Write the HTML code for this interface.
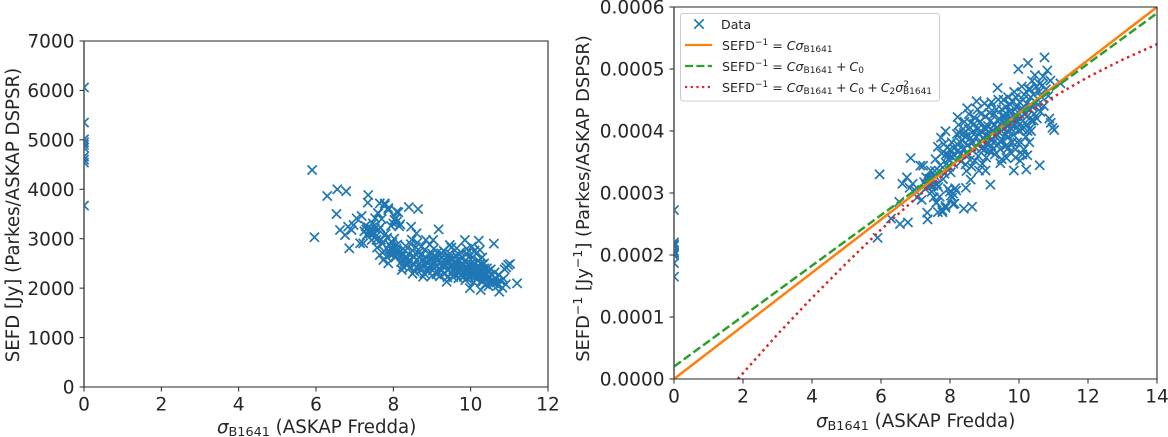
<!DOCTYPE html>
<html lang="en">
<head>
<meta charset="utf-8">
<title>SEFD versus sigma B1641</title>
<style>
html,body{margin:0;padding:0;background:#fff;}
svg{display:block;font-family:"DejaVu Sans","Liberation Sans",sans-serif;fill:#262626;}
</style>
</head>
<body>
<svg id="figure" xmlns="http://www.w3.org/2000/svg" width="1168" height="437" viewBox="0 0 1168 437">
  <defs>
    <clipPath id="clip-left"><rect x="84" y="41" width="464" height="346"/></clipPath>
    <clipPath id="clip-right"><rect x="674" y="7" width="483" height="372"/></clipPath>
  </defs>
  <g id="left-panel"></g>
  <g id="right-panel"></g>

  <text x="217" y="433" font-size="18.2"><tspan font-style="italic">σ</tspan><tspan font-size="12.8" dy="3">B1641</tspan><tspan dy="-3"> (ASKAP Fredda)</tspan></text>
  <text transform="translate(19,215) rotate(-90)" text-anchor="middle" font-size="18.2">SEFD [Jy] (Parkes/ASKAP DSPSR)</text>
  <text x="816" y="427" font-size="18.2"><tspan font-style="italic">σ</tspan><tspan font-size="12.8" dy="3">B1641</tspan><tspan dy="-3"> (ASKAP Fredda)</tspan></text>
  <text transform="translate(589,198.5) rotate(-90)" text-anchor="middle" font-size="17.9">SEFD<tspan font-size="12.5" dy="-7">−1</tspan><tspan dy="7"> [Jy</tspan><tspan font-size="12.5" dy="-7">−1</tspan><tspan dy="7">] (Parkes/ASKAP DSPSR)</tspan></text>

  <g id="legend">
    <rect x="680.5" y="13.5" width="259" height="87.5" rx="2.5" fill="#fff" fill-opacity="0.85" stroke="#ccc" stroke-width="1"/>
    <path d="M694.3 19.3l9.4 9.4m0-9.4l-9.4 9.4" stroke="#1f77b4" stroke-width="1.7" fill="none"/>
    <text x="721" y="29" font-size="12.6">Data</text>
    <line x1="685" x2="712" y1="45" y2="45" stroke="#ff7f0e" stroke-width="2.2"/>
    <text x="722" y="50" font-size="12.6">SEFD<tspan font-size="9" dy="-5">−1</tspan><tspan dy="5"> = </tspan><tspan font-style="italic">Cσ</tspan><tspan font-size="9" dy="2">B1641</tspan></text>
    <line x1="685" x2="712" y1="66" y2="66" stroke="#2ca02c" stroke-width="2.2" stroke-dasharray="8 3.4"/>
    <text x="722" y="71" font-size="12.6">SEFD<tspan font-size="9" dy="-5">−1</tspan><tspan dy="5"> = </tspan><tspan font-style="italic">Cσ</tspan><tspan font-size="9" dy="2">B1641</tspan><tspan dy="-2" letter-spacing="-0.6"> + </tspan><tspan font-style="italic">C</tspan><tspan font-size="9" dy="2">0</tspan></text>
    <line x1="685" x2="712" y1="87" y2="87" stroke="#d62728" stroke-width="2.2" stroke-dasharray="2.2 3.5"/>
    <text x="722" y="92" font-size="12.6">SEFD<tspan font-size="9" dy="-5">−1</tspan><tspan dy="5"> = </tspan><tspan font-style="italic">Cσ</tspan><tspan font-size="9" dy="2">B1641</tspan><tspan dy="-2" letter-spacing="-0.6"> + </tspan><tspan font-style="italic">C</tspan><tspan font-size="9" dy="2">0</tspan><tspan dy="-2" letter-spacing="-0.6"> + </tspan><tspan font-style="italic">C</tspan><tspan font-size="9" dy="2">2</tspan><tspan dy="-2" font-style="italic">σ</tspan><tspan font-size="9" dy="-5">2</tspan><tspan font-size="9" dx="-6" dy="7">B1641</tspan></text>
  </g>
</svg>
<script>
var sigmaValues = [
  0,0,0,0,0,0,0,0,0,0,
  5.90,5.96,6.29,6.55,6.78,6.53,6.62,6.75,6.86,7.14,
  6.97,7.05,7.18,6.83,6.92,7.40,7.35,7.34,7.65,7.78,
  7.87,7.61,7.53,8.09,7.47,7.31,7.22,7.44,7.96,8.09,
  7.87,7.74,7.65,8.13,7.87,7.78,7.60,7.70,8.46,8.60,
  9.03,8.84,9.46,9.64,10.03,10.24,8.40,8.64,9.17,9.85,
  10.21,10.60,10.97,10.92,11.02,10.88,11.20,10.74,10.91,10.60,
  7.50,7.55,7.62,7.68,7.72,7.58,7.80,7.84,7.90,7.52,
  7.66,7.76,7.82,7.88,7.92,7.95,7.98,8.00,8.02,8.05,
  7.94,8.00,8.03,8.06,8.08,8.10,8.12,8.15,8.18,8.20,
  8.22,8.25,8.28,8.21,8.24,8.30,8.32,8.35,8.38,8.40,
  8.42,8.44,8.45,8.48,8.50,8.52,8.54,8.55,8.58,8.60,
  8.62,8.64,8.66,8.68,8.70,8.72,8.74,8.76,8.77,8.80,
  8.82,8.84,8.86,8.88,8.90,8.92,8.94,8.96,8.98,9.00,
  9.02,9.04,9.05,9.08,9.10,9.12,9.14,9.15,9.18,9.20,
  9.22,9.24,9.26,9.28,9.30,9.32,9.34,9.35,9.38,9.40,
  9.42,9.44,9.46,9.48,9.50,9.52,9.54,9.55,9.58,9.60,
  9.62,9.64,9.66,9.68,9.70,9.72,9.74,9.75,9.78,9.80,
  9.82,9.84,9.86,9.88,9.90,9.92,9.94,9.95,9.98,10.00,
  10.02,10.04,10.05,10.08,10.10,10.12,10.14,10.15,10.18,10.20,
  10.22,10.24,10.26,10.28,10.30,10.32,10.34,10.35,10.38,10.40,
  10.42,10.44,10.46,10.48,10.50,10.52,10.55,10.58,10.62,10.65,
  10.68,10.70,10.72,10.78,10.82,10.85,10.30,10.10,9.90,9.70,
  9.50,9.30,9.10,8.90,8.70,8.50,8.30,8.10,9.60,9.40,
  9.20,9.00,8.80,8.60,8.40,10.00,9.85,9.65,9.45,9.25,
  9.05,9.75,9.55,9.35,9.15,10.15,10.05,9.95,10.25,10.35,
  9.90,9.72,9.92,10.12,10.32,10.42,10.22,10.02,9.82,9.62,
  7.30,7.38,7.42,7.45,7.35,7.28,7.48,7.25,7.40,7.56
];
var sefdValues = [
  6060,5350,5010,4950,4900,4840,4660,4600,4540,3670,
  4390,3030,3864,4000,3960,3500,3176,3075,2806,2907,
  3277,3413,3460,3243,3176,3176,3884,3729,3716,3716,
  3581,3514,3413,3546,3312,3075,2907,2974,2772,3344,
  2502,2569,2670,3534,3620,3682,3520,3400,3243,3109,
  2974,2974,2873,2806,2840,2772,3640,3600,3190,2974,
  2960,2900,2468,2420,2490,2380,2097,1928,2078,2100,
  3120,3050,3180,2980,2900,2820,3100,3020,2880,3210,
  3230,2750,2640,2760,2680,2820,2920,2700,3000,2620,
  3260,3310,3380,3420,2800,2760,2690,3250,3290,2530,
  2367,2440,2520,2640,2710,2760,2850,2600,2480,2690,
  2410,2560,2890,2980,2760,2650,2480,2340,2830,2570,
  2920,2710,2620,2500,2430,2840,2680,2560,2232,2480,
  2780,2620,2530,2410,2340,2690,2880,2580,2470,2700,
  2360,2540,2800,2620,2450,2280,2720,2560,2400,2660,
  2500,2350,2620,2440,2760,2560,2300,2470,2130,2640,
  2380,2520,2700,2440,2300,2600,2480,2220,2380,2540,
  2660,2340,2450,2200,2560,2380,2730,2260,2480,2620,
  2320,2540,2160,2440,2700,2280,2400,2620,2000,2500,
  2240,2380,2620,2120,2480,2300,2700,2180,2420,2560,
  2250,2360,1962,2140,2480,2300,2200,2400,2080,2280,
  2180,2340,2040,2240,2120,2380,2260,2160,2320,2200,
  2110,2050,2270,2140,2010,2190,2620,2760,2800,2680,
  2820,2440,2640,2500,2370,2290,2620,2880,2420,2220,
  2240,2250,2300,2420,2520,2440,2360,2500,2610,2700,
  2480,2430,2350,2530,2330,2340,2300,2460,2500,2500,
  2200,2320,2360,2220,2140,2400,2440,2340,2230,2280,
  3190,3150,3210,3120,3230,3260,3090,3150,3100,2980
];
var leftXTicks = [0,2,4,6,8,10,12];
var leftYTicks = [0,1000,2000,3000,4000,5000,6000,7000];
var rightXTicks = [0,2,4,6,8,10,12,14];
var rightYTicks = [0,0.0001,0.0002,0.0003,0.0004,0.0005,0.0006];
var linearFitX = [0,14];
var linearFitY = [0,0.0006];
var offsetFitX = [0,14];
var offsetFitY = [0.00002,0.00059];
var quadraticFitX = [1.85,3,4,5,6,7,8,9,10,11,12,13,14];
var quadraticFitY = [0,0.000072,0.000131,0.000187,0.000241,0.000291,0.000338,0.000381,0.00042,0.000455,0.000487,0.000515,0.00054];

var SVGNS = 'http://www.w3.org/2000/svg';
function make(tag, parent) {
  var el = document.createElementNS(SVGNS, tag);
  parent.appendChild(el);
  return el;
}
function linearScale(d0, d1, r0, r1) {
  return function (v) { return r0 + (v - d0) * (r1 - r0) / (d1 - d0); };
}
function drawFrame(panel, box, xScale, yScale, xTicks, yTicks, yFormat, labelOffset) {
  var frame = make('path', panel);
  
  
  frame.setAttribute('d', 'M' + box.l + ' ' + box.t + 'H' + box.r + 'V' + box.b + 'H' + box.l);
  frame.setAttribute('fill', 'none');
  frame.setAttribute('stroke', '#262626');
  frame.setAttribute('stroke-width', '1.1');
  var spine = make('line', panel);
  
  
  spine.setAttribute('x1', box.l);
  spine.setAttribute('x2', box.l);
  spine.setAttribute('y1', box.t);
  spine.setAttribute('y2', box.b);
  spine.setAttribute('stroke', '#5a5a5a');
  spine.setAttribute('stroke-width', '1.6');
  xTicks.forEach(function (t) {
    var px = xScale(t);
    var mark = make('line', panel);
    
    
    mark.setAttribute('x1', px);
    mark.setAttribute('x2', px);
    mark.setAttribute('y1', box.b);
    mark.setAttribute('y2', box.b + 4.5);
    mark.setAttribute('stroke', '#262626');
    mark.setAttribute('stroke-width', '1');
    var label = make('text', panel);
    
    
    label.setAttribute('x', px);
    label.setAttribute('y', box.b + labelOffset);
    label.setAttribute('text-anchor', 'middle');
    label.setAttribute('font-size', '18.5');
    label.textContent = String(t);
  });
  yTicks.forEach(function (t) {
    var py = yScale(t);
    var mark = make('line', panel);
    
    
    mark.setAttribute('x1', box.l - 4.5);
    mark.setAttribute('x2', box.l);
    mark.setAttribute('y1', py);
    mark.setAttribute('y2', py);
    mark.setAttribute('stroke', '#262626');
    mark.setAttribute('stroke-width', '1');
    var label = make('text', panel);
    
    
    label.setAttribute('x', box.l - 9.5);
    label.setAttribute('y', py + 6.7);
    label.setAttribute('text-anchor', 'end');
    label.setAttribute('font-size', '18.5');
    label.textContent = yFormat(t);
  });
}
function drawMarkers(panel, clipId, xs, ys, xScale, yScale) {
  var group = make('g', panel);
  
  
  group.setAttribute('clip-path', 'url(#' + clipId + ')');
  for (var i = 0; i < xs.length; i++) {
    var px = xScale(xs[i]);
    var py = yScale(ys[i]);
    var m = make('path', group);
    
    
    m.setAttribute('d', 'M' + (px - 4.6) + ' ' + (py - 4.6) + 'L' + (px + 4.6) + ' ' + (py + 4.6) + 'M' + (px + 4.6) + ' ' + (py - 4.6) + 'L' + (px - 4.6) + ' ' + (py + 4.6));
    m.setAttribute('stroke', '#1f77b4');
    m.setAttribute('stroke-width', '1.7');
    m.setAttribute('fill', 'none');
  }
}
function linePoints(xs, ys, xScale, yScale) {
  return xs.map(function (x, i) { return xScale(x) + ',' + yScale(ys[i]); }).join(' ');
}

var leftPanel = document.getElementById('left-panel');
var leftBox = {l: 84, r: 548, t: 41, b: 387};
var leftX = linearScale(0, 12, leftBox.l, leftBox.r);
var leftY = linearScale(0, 7000, leftBox.b, leftBox.t);
drawMarkers(leftPanel, 'clip-left', sigmaValues, sefdValues, leftX, leftY);
drawFrame(leftPanel, leftBox, leftX, leftY, leftXTicks, leftYTicks, function (v) { return String(v); }, 23.5);

var rightPanel = document.getElementById('right-panel');
var rightBox = {l: 674, r: 1157, t: 7, b: 379};
var rightX = linearScale(0, 14, rightBox.l, rightBox.r);
var rightY = linearScale(0, 0.0006, rightBox.b, rightBox.t);
var inverseSefd = sefdValues.map(function (v) { return 1 / v; });
drawMarkers(rightPanel, 'clip-right', sigmaValues, inverseSefd, rightX, rightY);

var linearLine = make('polyline', rightPanel);


linearLine.setAttribute('points', linePoints(linearFitX, linearFitY, rightX, rightY));
linearLine.setAttribute('fill', 'none');
linearLine.setAttribute('stroke', '#ff7f0e');
linearLine.setAttribute('stroke-width', '2.5');
linearLine.setAttribute('clip-path', 'url(#clip-right)');

var offsetLine = make('polyline', rightPanel);


offsetLine.setAttribute('points', linePoints(offsetFitX, offsetFitY, rightX, rightY));
offsetLine.setAttribute('fill', 'none');
offsetLine.setAttribute('stroke', '#2ca02c');
offsetLine.setAttribute('stroke-width', '2.5');
offsetLine.setAttribute('stroke-dasharray', '8.5 3.5');
offsetLine.setAttribute('clip-path', 'url(#clip-right)');

var quadraticLine = make('polyline', rightPanel);


quadraticLine.setAttribute('points', linePoints(quadraticFitX, quadraticFitY, rightX, rightY));
quadraticLine.setAttribute('fill', 'none');
quadraticLine.setAttribute('stroke', '#d62728');
quadraticLine.setAttribute('stroke-width', '2.5');
quadraticLine.setAttribute('stroke-dasharray', '2.5 3.7');
quadraticLine.setAttribute('clip-path', 'url(#clip-right)');

drawFrame(rightPanel, rightBox, rightX, rightY, rightXTicks, rightYTicks, function (v) { return v.toFixed(4); }, 23.5);
</script>
</body>
</html>
